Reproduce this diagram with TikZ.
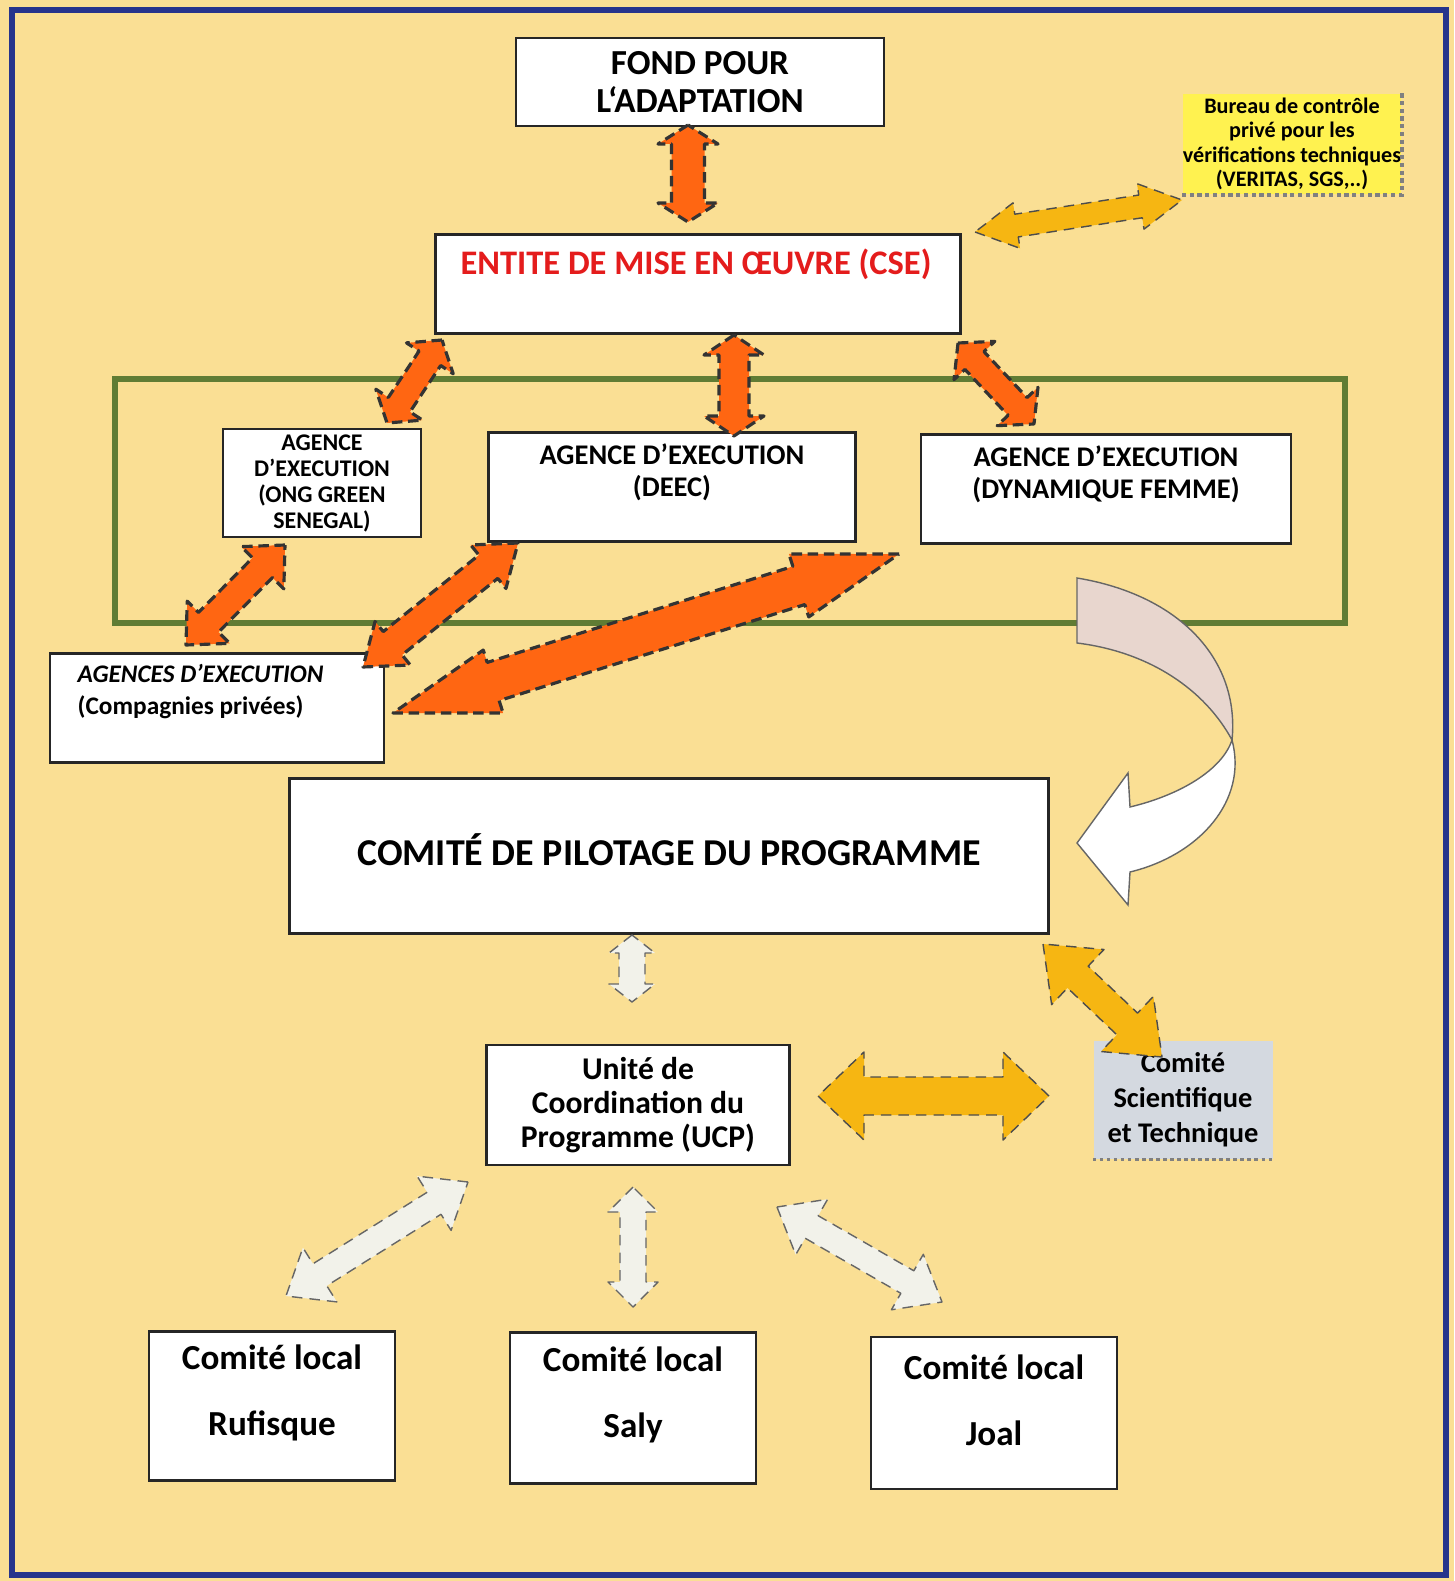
\documentclass[tikz,border=0pt]{standalone}
\usepackage{fontspec}
\setmainfont{Carlito}
\usetikzlibrary{calc,positioning}

\definecolor{paper}{RGB}{250,223,148}
\definecolor{frameblue}{RGB}{38,52,140}
\definecolor{boxgreen}{RGB}{96,124,52}
\definecolor{arrorange}{RGB}{255,102,18}
\definecolor{arrgold}{RGB}{246,182,18}
\definecolor{arrwhite}{RGB}{242,242,234}
\definecolor{notebg}{RGB}{255,242,80}
\definecolor{cstgrey}{RGB}{212,217,224}
\definecolor{backpink}{RGB}{232,214,206}
\definecolor{titlered}{RGB}{228,28,28}

% double block arrow: [style]{from}{to}{shaft half}{head half}{head length}
\newcommand{\dblarrow}[6][]{%
  \draw[#1] (#2)
    -- ($(#2)!#6!(#3)!#5!-90:(#3)$) -- ($(#2)!#6!(#3)!#4!-90:(#3)$)
    -- ($(#3)!#6!(#2)!#4!90:(#2)$) -- ($(#3)!#6!(#2)!#5!90:(#2)$)
    -- (#3)
    -- ($(#3)!#6!(#2)!#5!-90:(#2)$) -- ($(#3)!#6!(#2)!#4!-90:(#2)$)
    -- ($(#2)!#6!(#3)!#4!90:(#3)$) -- ($(#2)!#6!(#3)!#5!90:(#3)$)
    -- cycle;}

\tikzset{
  box/.style={draw=black!85, fill=white, line width=0.7pt, inner sep=0pt, align=center},
  txt/.style={inner sep=0pt, align=center},
  orangearrow/.style={fill=arrorange, draw=black!80, line width=0.9pt, dash pattern=on 3pt off 1.6pt, line join=round},
  goldarrow/.style={fill=arrgold, draw=black!70, line width=0.4pt, densely dashed, line join=round},
  whitearrow/.style={fill=arrwhite, draw=black!60, line width=0.4pt, densely dashed, line join=round},
}

\begin{document}
\begin{tikzpicture}[x=0.1mm, y=-0.1mm]
  \useasboundingbox (0,0) rectangle (1454,1581);
  \fill[paper] (0,0) rectangle (1454,1581);
  \draw[frameblue, line width=1.6pt] (12,10) rectangle (1446,1575);

  % top level
  \node[box, minimum width=3.68cm, minimum height=0.88cm, font=\bfseries\fontsize{10}{11}\selectfont] (fond) at (700,82) {FOND POUR\\L‘ADAPTATION};
  \node[box, minimum width=5.25cm, minimum height=0.99cm] (cse) at (698,284) {};
  \node[txt, text=titlered, font=\bfseries\fontsize{9.8}{12}\selectfont] (cset) at (696,264) {ENTITE DE MISE EN ŒUVRE (CSE)};
  \node[fill=notebg, minimum width=2.15cm, minimum height=1.0cm, inner sep=0pt, align=center, font=\bfseries\fontsize{6.3}{6.9}\selectfont] (bureau) at (1292,144) {Bureau de contrôle\\privé pour les\\vérifications techniques\\(VERITAS, SGS,..)};
  \draw[gray, densely dotted, line width=1.2pt] (bureau.north east) -- (bureau.south east) -- (bureau.south west);

  % agences
  \draw[boxgreen, line width=1.5pt] (115,379) rectangle (1345,623);
  \node[box, minimum width=1.98cm, minimum height=1.08cm, font=\bfseries\fontsize{6.8}{7.4}\selectfont] (ong) at (322,483) {AGENCE\\D’EXECUTION\\(ONG GREEN\\SENEGAL)};
  \node[box, minimum width=3.67cm, minimum height=1.09cm] (deec) at (672,487) {};
  \node[txt, below=1.2mm of deec.north, font=\bfseries\fontsize{8.1}{9.1}\selectfont] (deect) {AGENCE D’EXECUTION\\(DEEC)};
  \node[box, minimum width=3.70cm, minimum height=1.09cm] (femme) at (1106,489) {};
  \node[txt, below=1.2mm of femme.north, font=\bfseries\fontsize{8.1}{9.1}\selectfont] (femmet) {AGENCE D’EXECUTION\\(DYNAMIQUE FEMME)};
  \node[box, minimum width=3.34cm, minimum height=1.09cm] (priv) at (217,708) {};
  \node[txt, anchor=north west, align=left, font=\bfseries\fontsize{7.2}{9.1}\selectfont] (privt) at (77,664) {\itshape AGENCES D’EXECUTION\\(Compagnies privées)};

  % pilotage
  \node[box, minimum width=7.59cm, minimum height=1.55cm] (pilot) at (669,856) {};
  \node[txt, font=\bfseries\fontsize{10.8}{12}\selectfont] (pilott) at (669,850) {COMITÉ DE PILOTAGE DU PROGRAMME};
  \node[box, minimum width=3.03cm, minimum height=1.20cm, font=\bfseries\fontsize{9}{9.7}\selectfont] (ucp) at (638,1105) {Unité de\\Coordination du\\Programme (UCP)};
  \node[fill=cstgrey, minimum width=1.79cm, minimum height=1.18cm, inner sep=0pt, align=center, font=\bfseries\fontsize{8.1}{10}\selectfont] (cst) at (1183,1100) {Comité\\Scientifique\\et Technique};
  \draw[gray, densely dotted, line width=1pt] (cst.south west) -- (cst.south east);

  % comites locaux
  \node[box, minimum width=2.46cm, minimum height=1.49cm] (ruf) at (272,1406) {};
  \node[txt, font=\bfseries\fontsize{10}{18.8}\selectfont] (ruft) at (272,1393) {Comité local\\Rufisque};
  \node[box, minimum width=2.46cm, minimum height=1.51cm] (saly) at (633,1408) {};
  \node[txt, font=\bfseries\fontsize{10}{18.8}\selectfont] (salyt) at (633,1395) {Comité local\\Saly};
  \node[box, minimum width=2.46cm, minimum height=1.52cm] (joal) at (994,1413) {};
  \node[txt, font=\bfseries\fontsize{10}{18.8}\selectfont] (joalt) at (994,1400) {Comité local\\Joal};

  % arrow ends
  \coordinate (fondS) at (688,125);   \coordinate (cseN) at (688,222);
  \coordinate (cseE) at (975,232);    \coordinate (burW) at (1182,200);
  \coordinate (cseSW) at (442,340);   \coordinate (ongN) at (387,423);
  \coordinate (cseS) at (734,335);    \coordinate (deecN) at (734,436);
  \coordinate (cseSE) at (958,343);   \coordinate (femN) at (1034,424);
  \coordinate (ongS) at (285,545);    \coordinate (privA) at (186,645);
  \coordinate (deecS) at (518,543);   \coordinate (privB) at (363,667);
  \coordinate (femSW) at (899,554);   \coordinate (privE) at (393,713);
  \coordinate (pilS) at (632,935);    \coordinate (ucpN) at (632,1002);
  \coordinate (pilSE) at (1043,944);  \coordinate (cstN) at (1162,1057);
  \coordinate (ucpE) at (818,1096);   \coordinate (cstW) at (1049,1096);
  \coordinate (ucpSW) at (468,1182);  \coordinate (rufN) at (286,1296);
  \coordinate (ucpS) at (633,1187);   \coordinate (salyN) at (633,1307);
  \coordinate (ucpSE) at (777,1207);  \coordinate (joalN) at (942,1302);

  \dblarrow[orangearrow]{fondS}{cseN}{1.65mm}{3mm}{1.9mm}
  \dblarrow[goldarrow]{cseE}{burW}{1.15mm}{2.3mm}{4.2mm}
  \dblarrow[orangearrow]{cseSW}{ongN}{1.3mm}{2.8mm}{2.2mm}
  \dblarrow[orangearrow]{cseS}{deecN}{1.5mm}{3mm}{2mm}
  \dblarrow[orangearrow]{cseSE}{femN}{1.3mm}{2.8mm}{2.4mm}
  \dblarrow[orangearrow]{ongS}{privA}{1.4mm}{3mm}{3.2mm}
  \dblarrow[orangearrow]{deecS}{privB}{1.5mm}{2.8mm}{3.8mm}
  \dblarrow[orangearrow]{femSW}{privE}{2mm}{3.3mm}{10.5mm}

  % curved arrow
  \draw[fill=backpink, draw=black!60, line width=0.4pt] (1077,578) .. controls (1180,595) and (1240,660) .. (1232,740) .. controls (1205,690) and (1150,652) .. (1077,643) -- cycle;
  \draw[fill=white, draw=black!60, line width=0.4pt] (1232,740) .. controls (1248,800) and (1200,855) .. (1130,872) -- (1128,905) -- (1077,843) -- (1128,773) -- (1130,807) .. controls (1180,795) and (1222,770) .. (1232,740) -- cycle;

  \dblarrow[whitearrow]{pilS}{ucpN}{1.3mm}{2.3mm}{1.8mm}
  \dblarrow[goldarrow]{pilSE}{cstN}{1.5mm}{3.8mm}{4.8mm}
  \dblarrow[goldarrow]{ucpE}{cstW}{1.9mm}{4.4mm}{4.6mm}
  \dblarrow[whitearrow]{ucpSW}{rufN}{1.3mm}{3.2mm}{4mm}
  \dblarrow[whitearrow]{ucpS}{salyN}{1.3mm}{2.5mm}{2.5mm}
  \dblarrow[whitearrow]{ucpSE}{joalN}{1.3mm}{3.2mm}{4mm}
\end{tikzpicture}
\end{document}
